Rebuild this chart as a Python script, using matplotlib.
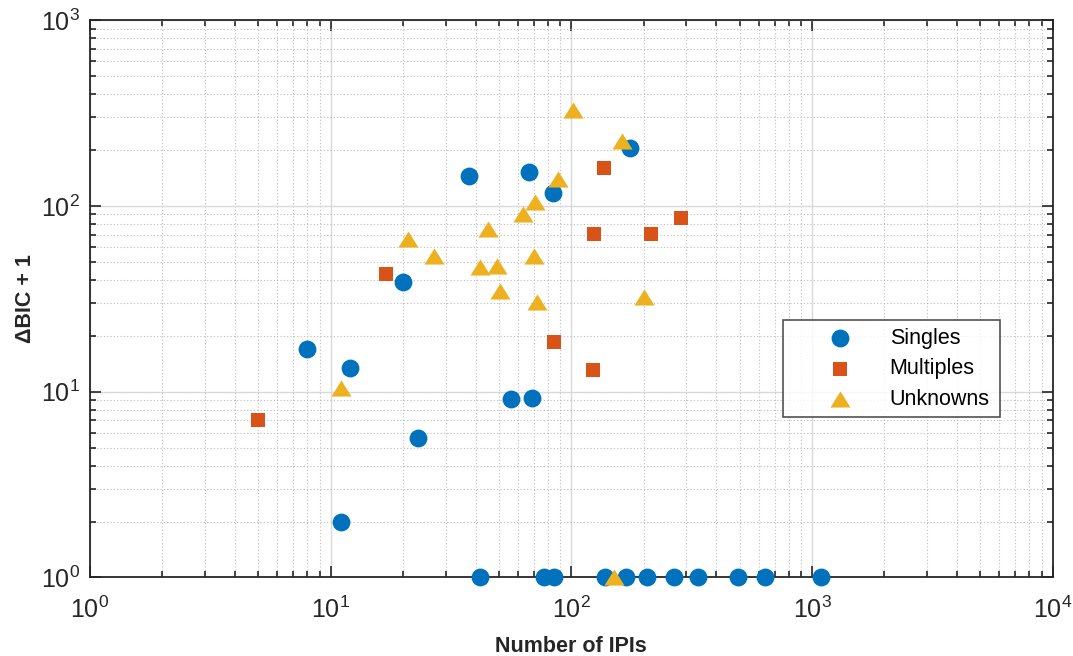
import matplotlib
matplotlib.use("Agg")
import matplotlib.pyplot as plt
from matplotlib.ticker import LogLocator, NullFormatter

plt.rcParams['font.family'] = ['Liberation Sans', 'DejaVu Sans']
plt.rcParams['mathtext.fontset'] = 'custom'
plt.rcParams['mathtext.rm'] = 'Liberation Sans'
plt.rcParams['mathtext.it'] = 'Liberation Sans'

# %% Data
singles_x = [8, 12, 11, 23, 20, 37.7, 66.7, 83.6, 175, 56, 68.6,
             41.6, 76.7, 85, 138, 169, 207, 268, 335, 491, 640, 1094]
singles_y = [17, 13.4, 2, 5.65, 39, 145, 153, 117, 205, 9.1, 9.3,
             1, 1, 1, 1, 1, 1, 1, 1, 1, 1, 1]

multiples_x = [5, 17, 136.6, 124.5, 214, 285, 84.7, 123]
multiples_y = [7.05, 43, 160, 70.3, 70.3, 86, 18.5, 13.1]

unknowns_x = [101.6, 163, 88, 70.8, 62.8, 44.9, 20.9, 26.9, 70, 41.7,
              48.9, 50.5, 71.7, 201, 11, 151]
unknowns_y = [328, 224, 140, 104.5, 90, 75, 66.6, 54, 54, 46.7,
              47.7, 35, 30.5, 32.5, 10.4, 1]

colors = {"Singles": "#0072BD", "Multiples": "#D95319", "Unknowns": "#EDB120"}
tri = [(-1, -0.8), (1, -0.8), (0, 0.8)]

# %% Plot
fig = plt.figure(figsize=(10.73, 6.56), dpi=100)
ax = fig.add_axes([0.0839, 0.1197, 0.8972, 0.8498])

ax.scatter(singles_x, singles_y, s=165, marker="o", color=colors["Singles"],
           label="Singles", clip_on=False, zorder=3, linewidths=0)
ax.scatter(multiples_x, multiples_y, s=100, marker="s", color=colors["Multiples"],
           label="Multiples", clip_on=False, zorder=3, linewidths=0)
ax.scatter(unknowns_x, unknowns_y, s=210, marker=tri, color=colors["Unknowns"],
           label="Unknowns", clip_on=False, zorder=3, linewidths=0)

ax.set_xscale("log")
ax.set_yscale("log")
ax.set_xlim(1, 1e4)
ax.set_ylim(1, 1e3)

ax.xaxis.set_major_locator(LogLocator(base=10, numticks=10))
ax.yaxis.set_major_locator(LogLocator(base=10, numticks=10))
ax.xaxis.set_minor_locator(LogLocator(base=10, subs=range(2, 10), numticks=20))
ax.yaxis.set_minor_locator(LogLocator(base=10, subs=range(2, 10), numticks=20))
ax.xaxis.set_minor_formatter(NullFormatter())
ax.yaxis.set_minor_formatter(NullFormatter())

ax.grid(True, which="major", color="#d9d9d9", linestyle="-", linewidth=1.0)
ax.grid(True, which="minor", color="#bdbdbd", linestyle=(0, (1, 2)), linewidth=0.8)
ax.set_axisbelow(True)

ax.tick_params(which="both", direction="in", top=True, right=True,
               colors="#262626", labelsize=18, width=1.2)
ax.tick_params(which="major", length=8, pad=7)
ax.tick_params(axis="x", which="major", pad=14)
ax.tick_params(which="minor", length=4.5)
for sp in ax.spines.values():
    sp.set_linewidth(1.3)
    sp.set_color("#262626")

ax.set_xlabel("Number of IPIs", fontsize=15.5, fontweight="bold", color="#262626", labelpad=9)
ax.set_ylabel("\u0394BIC + 1", fontsize=15.5, fontweight="bold", color="#262626", labelpad=4)

leg = ax.legend(loc="lower left", bbox_to_anchor=(0.72, 0.287, 0.225, 0.176),
                mode="expand", borderaxespad=0, fontsize=15.5, frameon=True, fancybox=False,
                borderpad=0.35, labelspacing=0.45, handletextpad=0.0,
                handlelength=4.6, scatterpoints=1)
leg.get_frame().set_edgecolor("#262626")
leg.get_frame().set_linewidth(1.2)

fig.savefig("out.png", dpi=100)
